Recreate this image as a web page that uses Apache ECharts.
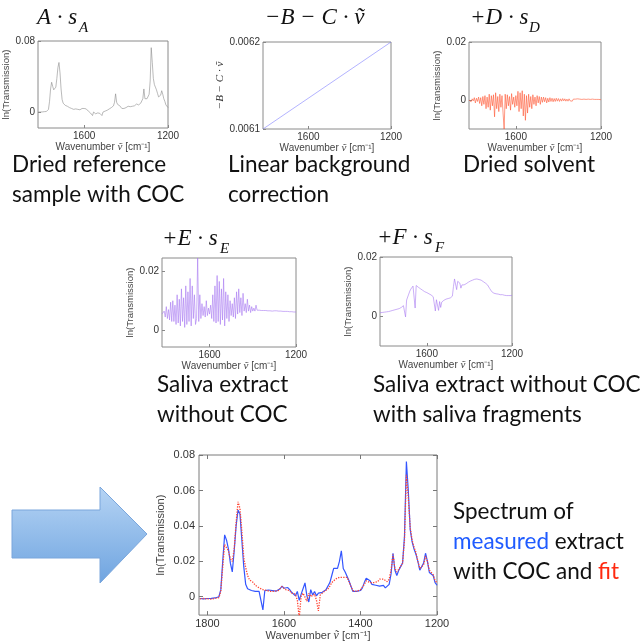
<!DOCTYPE html>
<html>
<head>
    <meta charset="utf-8" />
    <title>COC spectrum fit</title>
    <script src="https://cdn.jsdelivr.net/npm/echarts@6/dist/echarts.min.js"></script>
    <style>
        html, body { margin: 0; padding: 0; background: #fff; }
        #chart { width: 643px; height: 643px; }
    </style>
</head>
<body>
    <div id="chart"></div>

    <script>
        // wavenumber grid [cm-1], shared by all spectra
        var nu = [
            1820, 1815, 1810, 1805, 1800, 1795, 1790, 1785, 1780, 1775,
            1770, 1765, 1760, 1755, 1750, 1745, 1740, 1735, 1730, 1725,
            1720, 1715, 1710, 1705, 1700, 1695, 1690, 1685, 1680, 1675,
            1670, 1665, 1660, 1655, 1650, 1645, 1640, 1635, 1630, 1625,
            1620, 1615, 1610, 1605, 1600, 1595, 1590, 1585, 1580, 1575,
            1570, 1565, 1560, 1555, 1550, 1545, 1540, 1535, 1530, 1525,
            1520, 1515, 1510, 1505, 1500, 1495, 1490, 1485, 1480, 1475,
            1470, 1465, 1460, 1455, 1450, 1445, 1440, 1435, 1430, 1425,
            1420, 1415, 1410, 1405, 1400, 1395, 1390, 1385, 1380, 1375,
            1370, 1365, 1360, 1355, 1350, 1345, 1340, 1335, 1330, 1325,
            1320, 1315, 1310, 1305, 1300, 1295, 1290, 1285, 1280, 1275,
            1270, 1265, 1260, 1255, 1250, 1245, 1240, 1235, 1230, 1225,
            1220, 1215, 1210, 1205, 1200
        ];

        // A * s_A : dried reference sample with COC
        var specA = [
            0.0000, 0.0002, 0.0000, 0.0003, 0.0001, 0.0002, 0.0004, 0.0003, 0.0006, 0.0010,
            0.0030, 0.0120, 0.0260, 0.0335, 0.0290, 0.0250, 0.0240, 0.0280, 0.0380, 0.0500,
            0.0558, 0.0440, 0.0260, 0.0140, 0.0100, 0.0090, 0.0075, 0.0080, 0.0065, 0.0060,
            0.0050, 0.0045, 0.0040, 0.0035, 0.0030, 0.0040, 0.0035, 0.0025, 0.0030, 0.0020,
            0.0025, 0.0030, 0.0040, 0.0055, 0.0040, 0.0025, 0.0035, 0.0020, 0.0010, 0.0005,
            -0.0010, 0.0005, -0.0040, 0.0000, -0.0005, -0.0020, 0.0000, -0.0010, -0.0005, -0.0015,
            -0.0005, -0.0040, 0.0000, 0.0005, 0.0010, 0.0015, 0.0020, 0.0030, 0.0035, 0.0045,
            0.0050, 0.0060, 0.0070, 0.0110, 0.0205, 0.0110, 0.0085, 0.0080, 0.0070, 0.0050,
            0.0040, 0.0035, 0.0040, 0.0045, 0.0050, 0.0060, 0.0065, 0.0070, 0.0060, 0.0055,
            0.0065, 0.0060, 0.0070, 0.0080, 0.0090, 0.0085, 0.0080, 0.0090, 0.0100, 0.0110,
            0.0150, 0.0260, 0.0150, 0.0140, 0.0150, 0.0160, 0.0200, 0.0350, 0.0725, 0.0560,
            0.0380, 0.0310, 0.0280, 0.0250, 0.0210, 0.0170, 0.0150, 0.0190, 0.0240, 0.0200,
            0.0150, 0.0120, 0.0080, 0.0060, 0.0050
        ];

        // -B - C * nu : linear background
        var bgNu = [1820, 1200];
        var bgVal = [0.0061, 0.0062];

        // D * s_D : dried solvent
        var specD = [
            0.0000, 0.0005, -0.0006, 0.0004, -0.0003, 0.0008, -0.0010, 0.0006, -0.0005, 0.0010,
            -0.0012, 0.0008, -0.0020, 0.0012, -0.0015, 0.0015, -0.0030, 0.0010, -0.0025, 0.0020,
            -0.0035, 0.0015, -0.0020, 0.0018, -0.0058, 0.0025, -0.0030, 0.0012, -0.0040, 0.0020,
            -0.0025, 0.0015, -0.0045, -0.0100, 0.0020, -0.0030, 0.0018, -0.0020, 0.0012, -0.0035,
            0.0022, -0.0015, 0.0010, -0.0025, 0.0015, -0.0020, 0.0030, -0.0040, 0.0025, -0.0030,
            0.0032, -0.0055, 0.0020, -0.0070, 0.0015, -0.0045, 0.0020, -0.0025, 0.0012, -0.0030,
            0.0018, -0.0015, 0.0010, -0.0020, 0.0015, -0.0010, 0.0012, -0.0015, 0.0010, -0.0008,
            0.0010, -0.0006, 0.0008, -0.0010, 0.0006, -0.0007, 0.0008, -0.0005, 0.0006, -0.0006,
            0.0005, -0.0005, 0.0006, -0.0004, 0.0005, -0.0005, 0.0004, -0.0004, 0.0005, -0.0003,
            0.0004, -0.0004, 0.0003, -0.0004, 0.0004, -0.0003, 0.0003, -0.0004, 0.0003, -0.0003,
            0.0003, -0.0003, 0.0004, -0.0002, 0.0003, -0.0003, 0.0002, -0.0003, 0.0003, -0.0002,
            0.0002, -0.0003, 0.0003, -0.0002, 0.0002, -0.0002, 0.0003, -0.0002, 0.0002, -0.0002,
            0.0002, -0.0002, 0.0002, -0.0001, 0.0001
        ];

        // E * s_E : saliva extract without COC
        var specE = [
            0.0055, 0.0050, 0.0065, 0.0045, 0.0080, 0.0040, 0.0070, 0.0035, 0.0095, 0.0030,
            0.0100, 0.0030, 0.0085, 0.0020, 0.0120, 0.0025, 0.0105, 0.0015, 0.0140, 0.0030,
            0.0110, 0.0010, 0.0150, 0.0020, 0.0130, 0.0030, 0.0175, 0.0015, 0.0150, 0.0040,
            0.0120, 0.0020, 0.0040, 0.0244, 0.0030, 0.0120, 0.0040, 0.0090, 0.0050, 0.0080,
            0.0045, 0.0100, 0.0050, 0.0075, 0.0055, 0.0085, 0.0040, 0.0120, 0.0030, 0.0150,
            0.0025, 0.0185, 0.0030, 0.0165, 0.0020, 0.0140, 0.0035, 0.0175, 0.0015, 0.0130,
            0.0040, 0.0120, 0.0030, 0.0100, 0.0050, 0.0090, 0.0045, 0.0110, 0.0040, 0.0130,
            0.0055, 0.0140, 0.0060, 0.0110, 0.0050, 0.0125, 0.0065, 0.0090, 0.0060, 0.0105,
            0.0065, 0.0085, 0.0060, 0.0080, 0.0065, 0.0075, 0.0065, 0.0085, 0.0068, 0.0072,
            0.0068, 0.0070, 0.0067, 0.0069, 0.0067, 0.0068, 0.0067, 0.0068, 0.0066, 0.0067,
            0.0066, 0.0067, 0.0065, 0.0066, 0.0066, 0.0065, 0.0066, 0.0064, 0.0065, 0.0064,
            0.0065, 0.0064, 0.0064, 0.0063, 0.0064, 0.0063, 0.0064, 0.0062, 0.0063, 0.0062,
            0.0063, 0.0062, 0.0062, 0.0061, 0.0062
        ];

        // F * s_F : saliva extract without COC, with saliva fragments
        var specF = [
            0.0012, 0.0011, 0.0013, 0.0012, 0.0014, 0.0013, 0.0015, 0.0014, 0.0016, 0.0015,
            0.0018, 0.0017, 0.0020, 0.0019, 0.0022, 0.0021, 0.0024, 0.0023, 0.0026, 0.0028,
            0.0030, 0.0032, 0.0036, 0.0040, -0.0002, 0.0055, 0.0065, 0.0075, 0.0085, 0.0092,
            0.0098, 0.0102, 0.0105, 0.0028, 0.0104, 0.0100, 0.0098, 0.0095, 0.0093, 0.0090,
            0.0088, 0.0085, 0.0083, 0.0082, 0.0080, 0.0078, 0.0076, 0.0074, 0.0072, 0.0070,
            0.0066, 0.0062, 0.0018, 0.0056, 0.0052, 0.0020, 0.0050, 0.0030, 0.0048, 0.0052,
            0.0054, 0.0056, 0.0058, 0.0059, 0.0060, 0.0061, 0.0062, 0.0063, 0.0068, 0.0100,
            0.0126, 0.0122, 0.0090, 0.0118, 0.0114, 0.0112, 0.0095, 0.0106, 0.0104, 0.0106,
            0.0108, 0.0110, 0.0112, 0.0115, 0.0117, 0.0119, 0.0120, 0.0122, 0.0124, 0.0125,
            0.0124, 0.0126, 0.0125, 0.0124, 0.0125, 0.0122, 0.0120, 0.0117, 0.0114, 0.0112,
            0.0110, 0.0106, 0.0100, 0.0094, 0.0088, 0.0083, 0.0080, 0.0078, 0.0077, 0.0076,
            0.0076, 0.0075, 0.0074, 0.0073, 0.0072, 0.0073, 0.0072, 0.0071, 0.0071, 0.0070,
            0.0071, 0.0070, 0.0071, 0.0070, 0.0071
        ];

        // measured extract with COC (blue)
        var measured = [
            -0.0010, -0.0008, -0.0012, -0.0006, -0.0010, -0.0005, -0.0009, -0.0004, -0.0007, -0.0002,
            0.0000, 0.0040, 0.0200, 0.0350, 0.0320, 0.0270, 0.0190, 0.0140, 0.0260, 0.0400,
            0.0490, 0.0470, 0.0320, 0.0170, 0.0070, 0.0045, 0.0050, 0.0035, 0.0045, 0.0030,
            0.0040, 0.0030, 0.0025, -0.0075, 0.0035, 0.0030, 0.0038, 0.0030, 0.0035, 0.0028,
            0.0032, 0.0035, 0.0045, 0.0060, 0.0048, 0.0038, 0.0052, 0.0040, 0.0025, 0.0015,
            0.0005, 0.0030, -0.0020, 0.0015, 0.0025, 0.0078, 0.0005, -0.0030, 0.0040, 0.0010,
            0.0030, 0.0005, 0.0020, 0.0015, 0.0025, 0.0030, 0.0040, 0.0050, 0.0080, 0.0120,
            0.0160, 0.0170, 0.0160, 0.0200, 0.0260, 0.0160, 0.0140, 0.0130, 0.0090, 0.0060,
            0.0030, 0.0035, 0.0030, 0.0035, 0.0035, 0.0050, 0.0080, 0.0105, 0.0110, 0.0090,
            0.0070, 0.0075, 0.0065, 0.0070, 0.0060, 0.0060, 0.0064, 0.0050, 0.0045, 0.0070,
            0.0130, 0.0245, 0.0150, 0.0120, 0.0150, 0.0160, 0.0190, 0.0340, 0.0765, 0.0600,
            0.0380, 0.0310, 0.0270, 0.0240, 0.0200, 0.0150, 0.0144, 0.0190, 0.0246, 0.0200,
            0.0137, 0.0130, 0.0120, 0.0080, 0.0065
        ];

        // fit (red dotted)
        var fit = [
            -0.0012, -0.0015, -0.0010, -0.0018, -0.0012, -0.0020, -0.0014, -0.0018, -0.0010, -0.0012,
            -0.0005, 0.0030, 0.0170, 0.0295, 0.0290, 0.0260, 0.0215, 0.0200, 0.0270, 0.0420,
            0.0537, 0.0500, 0.0370, 0.0220, 0.0165, 0.0120, 0.0095, 0.0085, 0.0080, 0.0065,
            0.0062, 0.0050, 0.0045, 0.0040, 0.0045, 0.0035, 0.0040, 0.0030, 0.0035, 0.0030,
            0.0030, 0.0035, 0.0045, 0.0058, 0.0050, 0.0040, 0.0048, 0.0035, 0.0020, 0.0010,
            0.0015, -0.0020, -0.0120, 0.0005, 0.0020, 0.0010, -0.0025, 0.0020, 0.0000, -0.0010,
            0.0015, -0.0020, -0.0080, 0.0010, 0.0020, 0.0030, 0.0040, 0.0045, 0.0060, 0.0080,
            0.0090, 0.0100, 0.0095, 0.0110, 0.0120, 0.0110, 0.0105, 0.0110, 0.0085, 0.0060,
            0.0035, 0.0035, 0.0030, 0.0040, 0.0040, 0.0050, 0.0070, 0.0090, 0.0095, 0.0080,
            0.0075, 0.0080, 0.0075, 0.0085, 0.0100, 0.0108, 0.0100, 0.0090, 0.0085, 0.0100,
            0.0150, 0.0240, 0.0160, 0.0140, 0.0155, 0.0165, 0.0190, 0.0320, 0.0690, 0.0560,
            0.0390, 0.0320, 0.0280, 0.0250, 0.0200, 0.0160, 0.0150, 0.0180, 0.0230, 0.0200,
            0.0150, 0.0140, 0.0125, 0.0090, 0.0080
        ];

        var smallXTicks = [1600, 1200];
        var mainXTicks = [1800, 1600, 1400, 1200];
        var mainYTicks = [0, 0.02, 0.04, 0.06, 0.08];

        var SANS = 'Liberation Sans';
        var SERIF = 'Liberation Serif';
        var TEXT = 'Lato';

        function pairs(xs, ys) {
            return xs.map(function (x, i) { return [x, ys[i]]; });
        }
        function plain(v) { return String(v); }
        function yFmt(v) { return v === 0 ? '0' : String(+v.toFixed(4)); }

        // 横轴名称，ṽ 用斜体衬线
        function xNameStyle(size) {
            return {
                fontSize: size, color: '#444', fontFamily: SANS,
                rich: { v: { fontSize: size + 1, fontFamily: SERIF, fontStyle: 'italic', color: '#444' } }
            };
        }
        var xName = 'Wavenumber {v|\u1E7D} [cm\u207B\u00B9]';

        var grids = [], xAxes = [], yAxes = [], series = [];

        /*
        * 小图：每个分量一个坐标系
        * */
        function addPanel(box, yMin, yMax, yTicks, data, color, yName, yNameStyle) {
            var gi = grids.length;
            grids.push({
                left: box[0], top: box[1], width: box[2], height: box[3],
                show: true, borderColor: '#8a8a8a', borderWidth: 1
            });
            xAxes.push({
                gridIndex: gi, type: 'value', inverse: true, min: 1200, max: 1820,
                axisLine: { show: false, onZero: false }, splitLine: { show: false },
                axisTick: { inside: true, length: 3, customValues: smallXTicks, lineStyle: { color: '#888' } },
                axisLabel: { customValues: smallXTicks, fontSize: 10, color: '#333', margin: 3, fontFamily: SANS, formatter: plain },
                name: xName, nameLocation: 'middle', nameGap: 13,
                nameTextStyle: xNameStyle(10)
            });
            yAxes.push({
                gridIndex: gi, type: 'value', min: yMin, max: yMax,
                axisLine: { show: false, onZero: false }, splitLine: { show: false },
                axisTick: { inside: true, length: 3, customValues: yTicks, lineStyle: { color: '#888' } },
                axisLabel: { customValues: yTicks, fontSize: 10, color: '#333', margin: 3, fontFamily: SANS, formatter: yFmt },
                name: yName, nameLocation: 'middle', nameGap: yNameStyle.gap,
                nameTextStyle: yNameStyle.text
            });
            series.push({
                type: 'line', xAxisIndex: gi, yAxisIndex: gi, data: data,
                showSymbol: false, symbol: 'none', silent: true,
                lineStyle: { color: color, width: 0.6 }
            });
        }

        var lnStyle = { fontSize: 9.5, color: '#444', fontFamily: SANS };
        addPanel([38, 41, 130, 87], -0.018, 0.08, [0, 0.08], pairs(nu, specA), '#8c8c8c',
            'ln(Transmission)', { gap: 21, text: lnStyle });
        addPanel([263, 42, 128, 87], 0.0061, 0.0062, [0.0061, 0.0062], pairs(bgNu, bgVal), '#8080ff',
            '\u2212B \u2212 C · \u1E7D', { gap: 34, text: { fontSize: 11, color: '#333', fontFamily: SERIF, fontStyle: 'italic' } });
        addPanel([469, 42, 132, 87], -0.01, 0.02, [0, 0.02], pairs(nu, specD), '#ff5533',
            'ln(Transmission)', { gap: 27, text: lnStyle });
        addPanel([162, 258, 134, 89], -0.0056, 0.0244, [0, 0.02], pairs(nu, specE), '#a878f2',
            'ln(Transmission)', { gap: 27, text: lnStyle });
        addPanel([380, 257, 132, 89], -0.01, 0.02, [0, 0.02], pairs(nu, specF), '#a878f2',
            'ln(Transmission)', { gap: 27, text: lnStyle });

        /*
        * 主图：测量值与拟合
        * */
        var mg = grids.length;
        grids.push({ left: 199, top: 455, width: 238, height: 167, show: true, borderColor: '#7a7a7a', borderWidth: 1 });
        xAxes.push({
            gridIndex: mg, type: 'value', inverse: true, min: 1200, max: 1822,
            axisLine: { show: false, onZero: false }, splitLine: { show: false },
            axisTick: { inside: true, length: 4, customValues: mainXTicks, lineStyle: { color: '#777' } },
            axisLabel: { customValues: mainXTicks, fontSize: 11, color: '#333', margin: 3, fontFamily: SANS, formatter: plain },
            name: xName, nameLocation: 'middle', nameGap: 11,
            nameTextStyle: xNameStyle(11)
        });
        xAxes.push({
            gridIndex: mg, type: 'value', inverse: true, min: 1200, max: 1822, position: 'top',
            axisLine: { show: false, onZero: false }, splitLine: { show: false }, axisLabel: { show: false },
            axisTick: { inside: true, length: 4, customValues: mainXTicks, lineStyle: { color: '#777' } }
        });
        yAxes.push({
            gridIndex: mg, type: 'value', min: -0.0104, max: 0.0802,
            axisLine: { show: false, onZero: false }, splitLine: { show: false },
            axisTick: { inside: true, length: 4, customValues: mainYTicks, lineStyle: { color: '#777' } },
            axisLabel: { customValues: mainYTicks, fontSize: 11, color: '#333', margin: 4, fontFamily: SANS, formatter: yFmt },
            name: 'ln(Transmission)', nameLocation: 'middle', nameGap: 33,
            nameTextStyle: { fontSize: 11, color: '#444', fontFamily: SANS }
        });
        yAxes.push({
            gridIndex: mg, type: 'value', min: -0.0104, max: 0.0802, position: 'right',
            axisLine: { show: false, onZero: false }, splitLine: { show: false }, axisLabel: { show: false },
            axisTick: { inside: true, length: 4, customValues: mainYTicks, lineStyle: { color: '#777' } }
        });
        series.push({
            name: 'measured', type: 'line', xAxisIndex: 5, yAxisIndex: 5, data: pairs(nu, measured),
            showSymbol: false, symbol: 'none', silent: true,
            lineStyle: { color: '#3355ff', width: 1.2 }
        });
        series.push({
            name: 'fit', type: 'line', xAxisIndex: 5, yAxisIndex: 5, data: pairs(nu, fit),
            showSymbol: false, symbol: 'none', silent: true,
            lineStyle: { color: '#ff4433', width: 1.3, type: 'dotted' }
        });

        // 标题与说明文字
        function mathText(left, top, text) {
            return { type: 'text', left: left, top: top, style: { text: text, font: 'italic 23px "' + SERIF + '"', fill: '#111' } };
        }
        function subText(left, top, text) {
            return { type: 'text', left: left, top: top, style: { text: text, font: 'italic 15px "' + SERIF + '"', fill: '#111' } };
        }
        function label(left, top, text) {
            return { type: 'text', left: left, top: top, style: { text: text, font: '22.5px "' + TEXT + '"', fill: '#111', lineHeight: 30 } };
        }

        var graphics = [
            mathText(37, 6, 'A · s'), subText(79, 21, 'A'),
            mathText(265, 6, '\u2212B \u2212 C · \u1E7D'),
            mathText(470, 6, '+D · s'), subText(529, 21, 'D'),
            mathText(162, 227, '+E · s'), subText(220, 242, 'E'),
            mathText(377, 226, '+F · s'), subText(435, 241, 'F'),
            label(12, 150, 'Dried reference\nsample with COC'),
            label(228, 150, 'Linear background\ncorrection'),
            label(463, 150, 'Dried solvent'),
            label(157, 370, 'Saliva extract\nwithout COC'),
            label(373, 370, 'Saliva extract without COC\nwith saliva fragments'),
            {
                type: 'text', left: 453, top: 500,
                style: {
                    text: '{k|Spectrum of}\n{b|measured}{k| extract}\n{k|with COC and }{r|fit}',
                    rich: {
                        k: { fontFamily: TEXT, fontSize: 22.5, lineHeight: 30, fill: '#111' },
                        b: { fontFamily: TEXT, fontSize: 22.5, lineHeight: 30, fill: '#1f5bff' },
                        r: { fontFamily: TEXT, fontSize: 22.5, lineHeight: 30, fill: '#ff2a10' }
                    }
                }
            },
            {
                type: 'polygon',
                shape: { points: [[12, 510], [100, 510], [100, 487], [147, 534], [100, 583], [100, 558], [12, 558]] },
                style: {
                    fill: new echarts.graphic.LinearGradient(0, 0, 0, 1, [
                        { offset: 0, color: '#b6d4f4' },
                        { offset: 1, color: '#6fa4e0' }
                    ]),
                    stroke: '#7aa6dc', lineWidth: 1
                }
            }
        ];

        var chart = echarts.init(document.getElementById('chart'), null, { renderer: 'canvas' });
        chart.setOption({
            animation: false,
            backgroundColor: '#fff',
            grid: grids,
            xAxis: xAxes,
            yAxis: yAxes,
            series: series,
            graphic: graphics
        });
    </script>
</body>
</html>
